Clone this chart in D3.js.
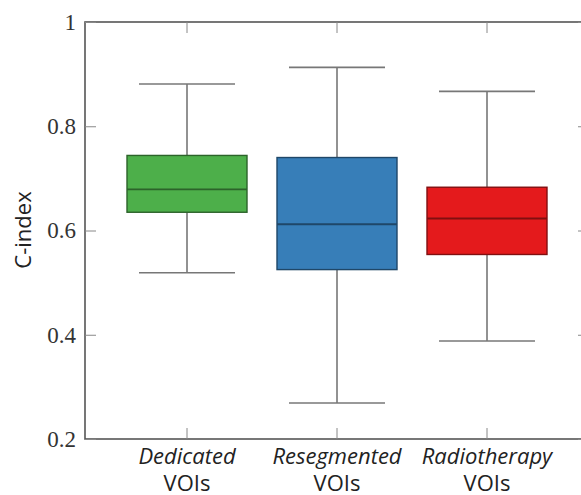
<!DOCTYPE html>
<html>
<head>
<meta charset="utf-8">
<script src="https://cdn.jsdelivr.net/npm/d3@7"></script>
<style>
  body { margin: 0; background: #fff; }
  svg { display: block; }
  .tick text { font-family: "Liberation Serif", "DejaVu Serif", serif; font-size: 23px; fill: #333; }
  .cat { font-family: "Open Sans", Lato, sans-serif; font-size: 22px; fill: #222; }
</style>
</head>
<body>
<svg id="chart"></svg>
<script>
const groups = ["Dedicated", "Resegmented", "Radiotherapy"];
const colors = ["#4daf4a", "#377eb8", "#e41a1c"];
const whiskerLow = [0.519, 0.269, 0.388];
const q1 = [0.635, 0.525, 0.554];
const medians = [0.679, 0.612, 0.623];
const q3 = [0.744, 0.740, 0.683];
const whiskerHigh = [0.881, 0.913, 0.867];
const yTicks = [0.2, 0.4, 0.6, 0.8, 1];

const width = 581;
const height = 495;
const plotLeft = 85, plotRight = 589, plotTop = 22, plotBottom = 439;

const data = groups.map((g, i) => ({
  group: g,
  color: colors[i],
  lo: whiskerLow[i],
  q1: q1[i],
  med: medians[i],
  q3: q3[i],
  hi: whiskerHigh[i],
}));

const svg = d3.select("#chart").attr("width", width).attr("height", height);

const x = d3.scaleBand().domain(groups).range([plotLeft, plotRight]).paddingInner(0.2).paddingOuter(0.28);
const y = d3.scaleLinear().domain([0.2, 1]).range([plotBottom, plotTop]);

const bw = x.bandwidth();
const cx = (d) => x(d) + bw / 2;

// frame
svg.append("rect")
  .attr("x", plotLeft).attr("y", plotTop)
  .attr("width", plotRight - plotLeft).attr("height", plotBottom - plotTop)
  .attr("fill", "none").attr("stroke", "#555").attr("stroke-width", 1.6);

// y axis (ticks inward, left and right)
const yAxis = svg.append("g")
  .attr("transform", `translate(${plotLeft},0)`)
  .call(d3.axisLeft(y).tickValues(yTicks).tickSizeInner(-11).tickSizeOuter(0).tickPadding(9).tickFormat(d3.format("~g")));
yAxis.select(".domain").remove();
yAxis.selectAll(".tick line").attr("stroke", "#888");

const yAxisR = svg.append("g")
  .attr("transform", `translate(${plotRight},0)`)
  .call(d3.axisRight(y).tickValues(yTicks).tickSizeInner(-11).tickSizeOuter(0).tickFormat(""));
yAxisR.select(".domain").remove();
yAxisR.selectAll(".tick line").attr("stroke", "#888");

// x ticks top and bottom
const xTicks = svg.append("g");
groups.forEach((g) => {
  xTicks.append("line").attr("x1", cx(g)).attr("x2", cx(g)).attr("y1", plotTop).attr("y2", plotTop + 11).attr("stroke", "#888");
  xTicks.append("line").attr("x1", cx(g)).attr("x2", cx(g)).attr("y1", plotBottom).attr("y2", plotBottom - 11).attr("stroke", "#888");
});

// boxes
const box = svg.selectAll(".box").data(data).enter().append("g").attr("class", "box");

box.append("line")
  .attr("x1", (d) => cx(d.group)).attr("x2", (d) => cx(d.group))
  .attr("y1", (d) => y(d.hi)).attr("y2", (d) => y(d.q3))
  .attr("stroke", "#777").attr("stroke-width", 1.6);
box.append("line")
  .attr("x1", (d) => cx(d.group)).attr("x2", (d) => cx(d.group))
  .attr("y1", (d) => y(d.q1)).attr("y2", (d) => y(d.lo))
  .attr("stroke", "#777").attr("stroke-width", 1.6);
box.append("line")
  .attr("x1", (d) => cx(d.group) - bw * 0.4).attr("x2", (d) => cx(d.group) + bw * 0.4)
  .attr("y1", (d) => y(d.hi)).attr("y2", (d) => y(d.hi))
  .attr("stroke", "#777").attr("stroke-width", 1.6);
box.append("line")
  .attr("x1", (d) => cx(d.group) - bw * 0.4).attr("x2", (d) => cx(d.group) + bw * 0.4)
  .attr("y1", (d) => y(d.lo)).attr("y2", (d) => y(d.lo))
  .attr("stroke", "#777").attr("stroke-width", 1.6);

box.append("rect")
  .attr("x", (d) => x(d.group))
  .attr("y", (d) => y(d.q3))
  .attr("width", bw)
  .attr("height", (d) => y(d.q1) - y(d.q3))
  .attr("fill", (d) => d.color)
  .attr("stroke", (d) => d3.color(d.color).darker(1.6))
  .attr("stroke-width", 1.4);

box.append("line")
  .attr("x1", (d) => x(d.group)).attr("x2", (d) => x(d.group) + bw)
  .attr("y1", (d) => y(d.med)).attr("y2", (d) => y(d.med))
  .attr("stroke", (d) => d3.color(d.color).darker(1.6))
  .attr("stroke-width", 1.8);

// y label
svg.append("text")
  .attr("class", "cat")
  .attr("transform", `translate(31,230) rotate(-90)`)
  .attr("text-anchor", "middle")
  .text("C-index");

// category labels
const labels = svg.append("g");
groups.forEach((g) => {
  labels.append("text").attr("class", "cat")
    .attr("x", cx(g)).attr("y", 464)
    .attr("text-anchor", "middle")
    .attr("font-style", "italic")
    .text(g);
  labels.append("text").attr("class", "cat")
    .attr("x", cx(g)).attr("y", 491)
    .attr("text-anchor", "middle")
    .text("VOIs");
});
</script>
</body>
</html>
